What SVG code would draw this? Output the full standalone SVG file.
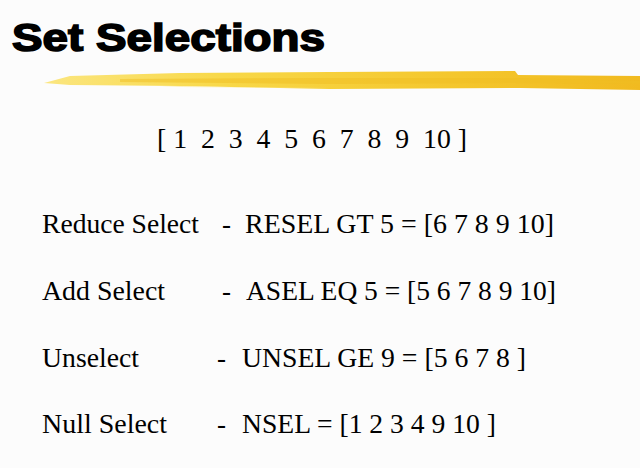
<svg xmlns="http://www.w3.org/2000/svg" width="640" height="468" viewBox="0 0 640 468">
<defs>
<linearGradient id="brush" x1="0" y1="0" x2="1" y2="0">
<stop offset="0" stop-color="#FBE680"/>
<stop offset="0.3" stop-color="#F8D848"/>
<stop offset="0.7" stop-color="#F4C62C"/>
<stop offset="1" stop-color="#F1BA20"/>
</linearGradient>
<style>
.title{font-family:"Liberation Sans",Arial,sans-serif;font-weight:bold;font-size:38px;fill:#000;stroke:#000;stroke-width:1.6px}
.t{font-family:"Liberation Serif","Times New Roman",serif;font-size:27px;fill:#000;white-space:pre}
</style>
</defs>
<rect width="640" height="468" fill="#FCFCFC"/>
<g id="title">
<text class="title" x="12" y="51" textLength="313" lengthAdjust="spacingAndGlyphs">Set Selections</text>
</g>
<g id="brush">
<path d="M44,83 L70,76 L180,73 L330,72 L515,71 L518,75 L640,76 L640,90 L520,88 L330,89 L180,86 L70,85 Z" fill="url(#brush)"/>
<path d="M120,79 L330,78 L515,78 L640,81 L640,84 L515,83 L330,84 L120,82 Z" fill="#F0BE22" opacity="0.5"/>
<path d="M160,86 L330,88 L180,87 Z" fill="#FBEA9A" opacity="0.8"/>
</g>
<g id="set">
<text class="t" x="157" y="148" textLength="310" lengthAdjust="spacingAndGlyphs">[ 1  2  3  4  5  6  7  8  9  10 ]</text>
</g>
<g id="row1">
<text class="t" x="42" y="233" textLength="157" lengthAdjust="spacingAndGlyphs">Reduce Select</text>
<text class="t" x="222" y="233">-</text>
<text class="t" x="245" y="233" textLength="309" lengthAdjust="spacingAndGlyphs">RESEL GT 5 = [6 7 8 9 10]</text>
</g>
<g id="row2">
<text class="t" x="42" y="300" textLength="123" lengthAdjust="spacingAndGlyphs">Add Select</text>
<text class="t" x="222" y="300">-</text>
<text class="t" x="246" y="300" textLength="310" lengthAdjust="spacingAndGlyphs">ASEL EQ 5 = [5 6 7 8 9 10]</text>
</g>
<g id="row3">
<text class="t" x="42" y="367" textLength="97" lengthAdjust="spacingAndGlyphs">Unselect</text>
<text class="t" x="217" y="367">-</text>
<text class="t" x="242" y="367" textLength="284" lengthAdjust="spacingAndGlyphs">UNSEL GE 9 = [5 6 7 8 ]</text>
</g>
<g id="row4">
<text class="t" x="42" y="433" textLength="125" lengthAdjust="spacingAndGlyphs">Null Select</text>
<text class="t" x="217" y="433">-</text>
<text class="t" x="242" y="433" textLength="254" lengthAdjust="spacingAndGlyphs">NSEL = [1 2 3 4 9 10 ]</text>
</g>
</svg>
